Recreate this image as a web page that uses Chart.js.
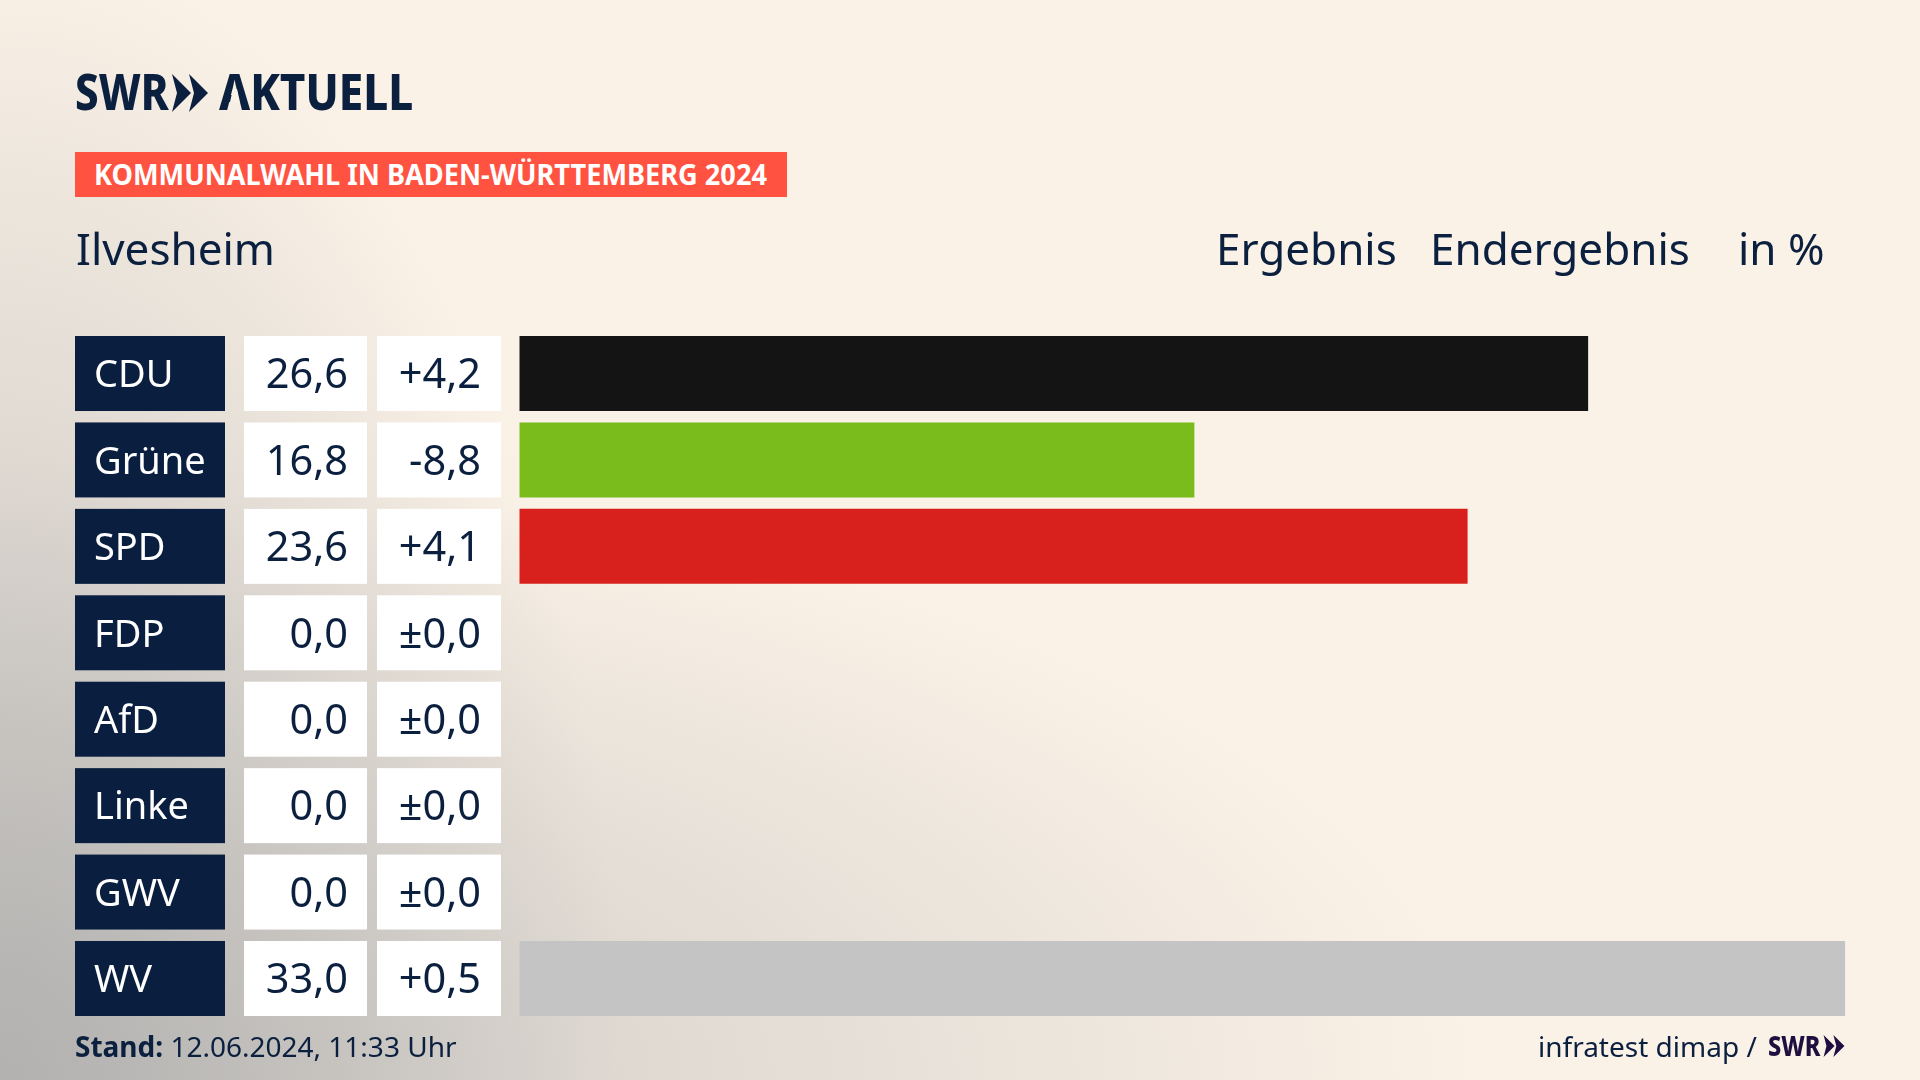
<!DOCTYPE html>
<html lang="de">
<head>
<meta charset="utf-8">
<title>Kommunalwahl Ilvesheim</title>
<script src="https://cdn.jsdelivr.net/npm/chart.js@4"></script>
<style>
  html, body { margin: 0; padding: 0; }
  body {
    width: 1920px; height: 1080px; overflow: hidden; position: relative;
    color: #0b1f3f; font-family: "Noto Sans", sans-serif;
    background:
      radial-gradient(ellipse 1500px 620px at 0 1080px, rgba(170,170,170,0.6), rgba(170,170,170,0) 100%),
      radial-gradient(ellipse 620px 1150px at 0 1080px, rgba(170,170,170,0.75), rgba(170,170,170,0) 100%),
      #fbf2e7;
  }
  canvas { position: absolute; left: 0; top: 0; }
  .t { position: absolute; white-space: nowrap; line-height: 1; transform-origin: left top; }
  svg { position: absolute; }
</style>
</head>
<body>
<canvas id="wahlchart" width="1920" height="1080"></canvas>

<div class="t" style="left:75px;top:66px;font-size:50px;font-weight:800;transform:scaleX(.84)">SWR</div>
<svg style="left:172px;top:74px" width="36" height="38" viewBox="0 0 36 38" fill="#0b1f3f"><path d="M0 0L19 19L0 38L5 19ZM17 0L36 19L17 38L22 19Z"/></svg>
<div class="t" style="left:219px;top:66px;font-size:50px;font-weight:800;transform:scaleX(.88)">AKTUELL</div>
<svg style="left:225px;top:87px" width="20" height="18" viewBox="0 0 20 18" fill="#fbf2e7"><path d="M8 2H12L15 15H5Z"/></svg>

<div style="position:absolute;left:75px;top:152px;width:712px;height:45px;background:#ff5240"></div>
<div class="t" style="left:94px;top:160px;font-size:28px;font-weight:700;color:#fff;transform:scaleX(.97)">KOMMUNALWAHL IN BADEN-WÜRTTEMBERG 2024</div>

<div class="t" style="left:76px;top:226px;font-size:44px">Ilvesheim</div>
<div class="t" style="left:1216px;top:226px;font-size:44px">Ergebnis</div>
<div class="t" style="left:1430px;top:226px;font-size:44px">Endergebnis</div>
<div class="t" style="left:1738px;top:226px;font-size:44px">in %</div>

<div class="t" style="left:75px;top:1032px;font-size:28px"><b>Stand:</b> 12.06.2024, 11:33 Uhr</div>
<div class="t" style="left:1538px;top:1032px;font-size:28px">infratest dimap /</div>
<div class="t" style="left:1768px;top:1031px;font-size:28px;font-weight:800;color:#1e0f40;transform:scaleX(.84)">SWR</div>
<svg style="left:1822px;top:1035px" width="24" height="22" viewBox="0 0 36 38" fill="#1e0f40"><path d="M0 0L19 19L0 38L5 19ZM17 0L36 19L17 38L22 19Z"/></svg>

<script>
const parties = ["CDU", "Grüne", "SPD", "FDP", "AfD", "Linke", "GWV", "WV"];
const results = [26.6, 16.8, 23.6, 0, 0, 0, 0, 33.0];
const changes = [4.2, -8.8, 4.1, 0, 0, 0, 0, 0.5];
const barColors = ["#141414", "#7abc1b", "#d8201c", "#999999", "#009ee0", "#be3075", "#888888", "#c4c4c4"];

const fmt = (v) => v.toFixed(1).replace(".", ",");
const fmtChange = (v) => (v === 0 ? "±" : v > 0 ? "+" : "") + fmt(v);

// navy name boxes and the two white number columns, placed from the y scale
const tableCells = {
  id: "tableCells",
  beforeDatasetsDraw(chart) {
    const { ctx, scales: { y } } = chart;
    ctx.save();
    parties.forEach((name, i) => {
      const top = y.getPixelForValue(i) - 37.5;
      ctx.fillStyle = "#0a1f3f";
      ctx.fillRect(75, top, 150, 75);
      ctx.fillStyle = "#ffffff";
      ctx.fillRect(244, top, 123, 75);
      ctx.fillRect(377, top, 124, 75);
    });
    ctx.restore();
  },
  afterDatasetsDraw(chart) {
    const { ctx, scales: { y } } = chart;
    ctx.save();
    ctx.textBaseline = "middle";
    parties.forEach((name, i) => {
      const mid = y.getPixelForValue(i) + 3;
      ctx.font = '38px "Noto Sans"';
      ctx.fillStyle = "#ffffff";
      ctx.textAlign = "left";
      ctx.fillText(name, 94, mid);
      ctx.font = '41.5px "Noto Sans"';
      ctx.fillStyle = "#0b1f3f";
      ctx.textAlign = "right";
      ctx.fillText(fmt(results[i]), 348, mid);
      ctx.fillText(fmtChange(changes[i]), 481, mid);
    });
    ctx.restore();
  },
};

document.addEventListener("DOMContentLoaded", function () {
  const ctx = document.getElementById("wahlchart");

  new Chart(ctx, {
    type: "bar",
    data: {
      labels: parties,
      datasets: [
        {
          data: results,
          backgroundColor: barColors,
          barPercentage: 1,
          categoryPercentage: 0.868,
        },
      ],
    },
    options: {
      indexAxis: "y",
      responsive: false,
      animation: false,
      devicePixelRatio: 1,
      layout: { padding: { left: 94, right: 74.7, top: 330.3, bottom: 58.3 } },
      scales: {
        x: { display: false, min: 0, max: 33 },
        y: {
          afterFit: (scale) => { scale.width = 425.3; },
          grid: { display: false, drawTicks: false },
          border: { display: false },
          ticks: { display: false },
        },
      },
      plugins: { legend: { display: false }, tooltip: { enabled: false } },
    },
    plugins: [tableCells],
  });
});
</script>
</body>
</html>
